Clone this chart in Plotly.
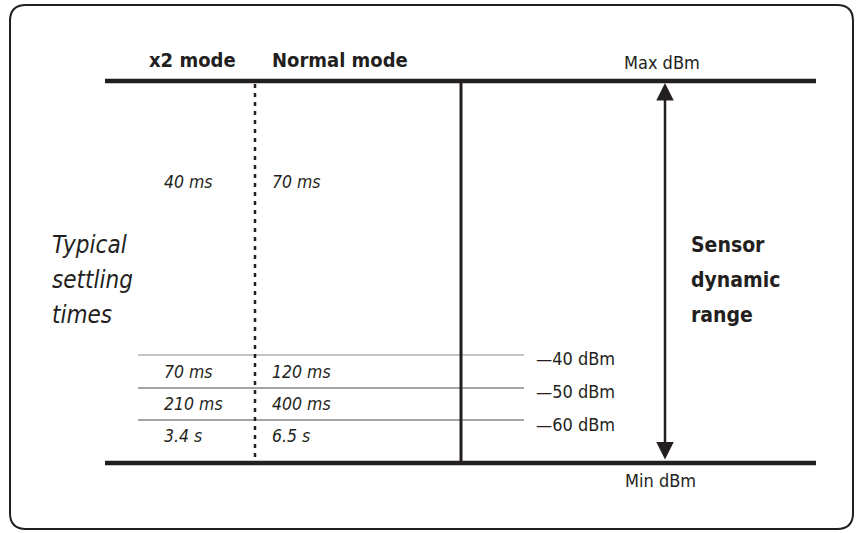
import plotly.graph_objects as go

# ---- data ----
modes = ["x2 mode", "Normal mode"]
top_row_times = ["40 ms", "70 ms"]
row_x2_times = ["70 ms", "210 ms", "3.4 s"]
row_normal_times = ["120 ms", "400 ms", "6.5 s"]
level_labels = ["\u201440 dBm", "\u201450 dBm", "\u201460 dBm"]
range_labels = ["Max dBm", "Min dBm"]
left_label = ["Typical", "settling", "times"]
right_label = ["Sensor", "dynamic", "range"]

# ---- layout geometry (diagram coordinates, pixels) ----
W, H = 856, 533
X_LEFT, X_RIGHT = 105, 816
Y_MAX, Y_MIN = 81, 463
X_DOT, X_SOLID, X_ARROW = 255, 461, 665
THIN_X0, THIN_X1 = 138, 524
THIN_Y = [355, 388, 420]
ROW_TEXT_Y = [372, 404, 436]
LEVEL_TEXT_Y = [358, 391, 424]
COL_X = [162, 270]

FONT = "DejaVu Sans Condensed, Liberation Sans Narrow, Arial Narrow, sans-serif"
INK = "#231f20"

fig = go.Figure()

def line(x, y, color=INK, width=1, dash="solid"):
    fig.add_trace(go.Scatter(x=x, y=y, mode="lines", hoverinfo="skip",
                             line=dict(color=color, width=width, dash=dash),
                             showlegend=False))

# thin level lines
thin_colors = ["#8a8a8a", "#4a4a4a", "#4a4a4a"]
for yy, c in zip(THIN_Y, thin_colors):
    line([THIN_X0, THIN_X1], [yy, yy], color=c, width=1.2)

# dotted divider
line([X_DOT, X_DOT], [Y_MAX + 3, Y_MIN], width=2.5, dash="4px,5px")
# solid divider
line([X_SOLID, X_SOLID], [Y_MAX, Y_MIN], width=3)
# max/min thick lines
line([X_LEFT, X_RIGHT], [Y_MAX, Y_MAX], width=4.5)
line([X_LEFT, X_RIGHT], [Y_MIN, Y_MIN], width=4.5)

# double arrow
fig.add_annotation(x=X_ARROW, y=Y_MAX + 2, ax=X_ARROW, ay=Y_MIN - 2,
                   xref="x", yref="y", axref="x", ayref="y",
                   showarrow=True, arrowhead=2, startarrowhead=2,
                   arrowside="end+start", arrowsize=1.4, startarrowsize=1.4,
                   arrowwidth=2.5, arrowcolor=INK, text="")

# frame (rounded rectangle)
x0, y0, x1, y1, r = 10, 5, 853, 529, 16
path = (f"M {x0+r},{y0} L {x1-r},{y0} Q {x1},{y0} {x1},{y0+r} "
        f"L {x1},{y1-r} Q {x1},{y1} {x1-r},{y1} L {x0+r},{y1} "
        f"Q {x0},{y1} {x0},{y1-r} L {x0},{y0+r} Q {x0},{y0} {x0+r},{y0} Z")
fig.add_shape(type="path", path=path, xref="x", yref="y",
              line=dict(color=INK, width=2))

def text(x, y, s, size, bold=False, italic=False, anchor="left"):
    fig.add_annotation(x=x, y=y, xref="x", yref="y", text=s, showarrow=False,
                       xanchor=anchor, yanchor="middle",
                       font=dict(family=FONT, size=size, color=INK,
                                 weight="bold" if bold else "normal",
                                 style="italic" if italic else "normal"))

# headers
text(147, 60, modes[0], 20, bold=True)
text(270, 60, modes[1], 20, bold=True)
text(662, 62, range_labels[0], 18, anchor="center")
text(660, 480, range_labels[1], 18, anchor="center")

# top row times
text(COL_X[0], 182, top_row_times[0], 17.5, italic=True)
text(COL_X[1], 182, top_row_times[1], 17.5, italic=True)

# rows
for yy, a, b in zip(ROW_TEXT_Y, row_x2_times, row_normal_times):
    text(COL_X[0], yy, a, 17.5, italic=True)
    text(COL_X[1], yy, b, 17.5, italic=True)

# level labels
for yy, s in zip(LEVEL_TEXT_Y, level_labels):
    text(534, yy, s, 18)

# side labels
for i, s in enumerate(left_label):
    text(50, 245 + i * 35, s, 24, italic=True)
for i, s in enumerate(right_label):
    text(689, 245 + i * 35, s, 21, bold=True)

fig.update_layout(
    width=W, height=H, margin=dict(l=0, r=0, t=0, b=0),
    paper_bgcolor="white", plot_bgcolor="white",
    xaxis=dict(range=[0, W], visible=False, fixedrange=True),
    yaxis=dict(range=[H, 0], visible=False, fixedrange=True),
    showlegend=False,
)

fig.write_html("out.html", config={"displayModeBar": False},
               post_script="document.body.style.margin='0';document.body.style.overflow='hidden';")
